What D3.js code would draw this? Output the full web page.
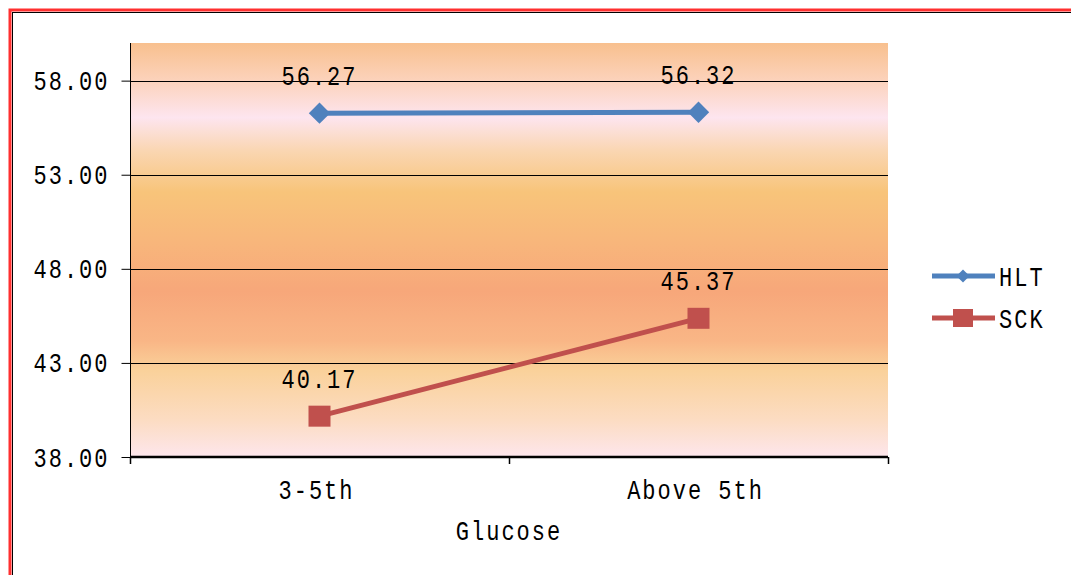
<!DOCTYPE html>
<html>
<head>
<meta charset="utf-8">
<script src="https://cdn.jsdelivr.net/npm/d3@7"></script>
<style>
  html, body { margin: 0; padding: 0; background: #fff; }
  svg { display: block; }
  text { font-family: "Liberation Mono", "DejaVu Sans Mono", monospace; fill: #000; }
</style>
</head>
<body>
<svg id="chart" width="1071" height="575"></svg>
<script>
// Chart data
const categories = ["3-5th", "Above 5th"];
const seriesNames = ["HLT", "SCK"];
const hltValues = [56.27, 56.32];
const sckValues = [40.17, 45.37];
const yTickValues = [38, 43, 48, 53, 58];
const xTitle = "Glucose";

const W = 1071, H = 575;
const plot = { left: 130, top: 43, right: 888, bottom: 457 };
const colors = { HLT: "#4f81bd", SCK: "#c0504d" };
const fontSize = 22;
const letterSpacing = 2;
const stretch = 1.27; // taller glyphs, as in the original typeface

const svg = d3.select("#chart");

// Outer frame: red rule with a thin black inner line
svg.append("rect").attr("x", 10).attr("y", 10).attr("width", W + 20).attr("height", H + 20)
  .attr("fill", "none").attr("stroke", "#ff3030").attr("stroke-width", 3);
svg.append("rect").attr("x", 12.5).attr("y", 12.5).attr("width", W + 20).attr("height", H + 20)
  .attr("fill", "none").attr("stroke", "#000").attr("stroke-width", 1);

const x = d3.scaleBand().domain(categories).range([plot.left, plot.right]);
const y = d3.scaleLinear().domain([38, 60]).range([plot.bottom, plot.top]);

// Plot-area background gradient
const defs = svg.append("defs");
const grad = defs.append("linearGradient").attr("id", "bg").attr("x1", 0).attr("y1", 0).attr("x2", 0).attr("y2", 1);
[
  [0.00, "#f8c08e"], [0.09, "#fcd2bb"], [0.18, "#fde5ef"], [0.26, "#fad6b2"],
  [0.36, "#f8c47a"], [0.48, "#f8b67b"], [0.60, "#f7a77a"], [0.72, "#f9b686"],
  [0.79, "#fad19a"], [0.91, "#fcdcc2"], [1.00, "#fde6ec"]
].forEach(([o, c]) => grad.append("stop").attr("offset", o).attr("stop-color", c));

svg.append("rect")
  .attr("x", plot.left).attr("y", plot.top)
  .attr("width", plot.right - plot.left).attr("height", plot.bottom - plot.top)
  .attr("fill", "url(#bg)");

// Horizontal gridlines
svg.append("g").selectAll("line").data(yTickValues.slice(1)).join("line")
  .attr("x1", plot.left).attr("x2", plot.right)
  .attr("y1", d => Math.round(y(d)) + 0.5).attr("y2", d => Math.round(y(d)) + 0.5)
  .attr("stroke", "#000").attr("stroke-width", 1);

function stretchedText(g, xPos, baseY, str, anchor) {
  return g.append("text")
    .attr("transform", `translate(${xPos},${baseY}) scale(1,${stretch})`)
    .attr("text-anchor", anchor || "middle")
    .attr("font-size", fontSize)
    .attr("letter-spacing", letterSpacing)
    .text(str);
}

// Y axis
const yAxis = svg.append("g").attr("transform", `translate(${plot.left + 0.5},0)`)
  .call(d3.axisLeft(y).tickValues(yTickValues).tickSize(9).tickFormat(""));
yAxis.select(".domain").attr("stroke", "#000").attr("d", `M0,${plot.top}V${plot.bottom + 6}`);
yAxis.selectAll(".tick line").attr("stroke", "#000");
yAxis.selectAll(".tick").each(function(d) {
  stretchedText(d3.select(this), -21, 9, d3.format(".2f")(d), "end");
});

// X axis
const xAxis = svg.append("g").attr("transform", `translate(0,${plot.bottom})`)
  .call(d3.axisBottom(x).tickSize(0).tickFormat(""));
xAxis.select(".domain").attr("stroke", "#000").attr("stroke-width", 2.5)
  .attr("d", `M${plot.left},0H${plot.right}`);
// category boundary ticks
const bounds = [plot.left, x(categories[1]), plot.right];
xAxis.append("g").selectAll("line").data(bounds).join("line")
  .attr("x1", d => Math.round(d) + 0.5).attr("x2", d => Math.round(d) + 0.5)
  .attr("y1", 0).attr("y2", 7).attr("stroke", "#000").attr("stroke-width", 1.5);

// category labels
categories.forEach(c => stretchedText(svg, x(c) + x.bandwidth() / 2 - 3, 499, c));
// axis title
stretchedText(svg, (plot.left + plot.right) / 2, 540, xTitle);

// Series
const series = [
  { name: "HLT", values: hltValues, marker: "diamond" },
  { name: "SCK", values: sckValues, marker: "square" }
];
const cx = c => x(c) + x.bandwidth() / 2;
const line = d3.line().x((d, i) => cx(categories[i])).y(d => y(d));

series.forEach(s => {
  svg.append("path").datum(s.values)
    .attr("d", line).attr("fill", "none")
    .attr("stroke", colors[s.name]).attr("stroke-width", 5);
  s.values.forEach((v, i) => {
    const px = cx(categories[i]), py = y(v);
    if (s.marker === "diamond") {
      svg.append("path")
        .attr("d", d3.symbol(d3.symbolDiamond2, 290)())
        .attr("transform", `translate(${px},${py})`)
        .attr("fill", colors[s.name]);
    } else {
      svg.append("rect")
        .attr("x", px - 11).attr("y", py - 10.5).attr("width", 22).attr("height", 21)
        .attr("fill", colors[s.name]);
    }
    stretchedText(svg, px, py - 28, d3.format(".2f")(v));
  });
});

// Legend
const legend = svg.append("g");
series.forEach((s, i) => {
  const ly = 276 + i * 42;
  legend.append("line").attr("x1", 932).attr("x2", 995).attr("y1", ly).attr("y2", ly)
    .attr("stroke", colors[s.name]).attr("stroke-width", 5);
  if (s.marker === "diamond") {
    legend.append("path").attr("d", d3.symbol(d3.symbolDiamond2, 110)())
      .attr("transform", `translate(963,${ly})`).attr("fill", colors[s.name]);
  } else {
    legend.append("rect").attr("x", 953).attr("y", ly - 9).attr("width", 20).attr("height", 18)
      .attr("fill", colors[s.name]);
  }
  stretchedText(legend, 999, ly + 10, s.name, "start");
});
</script>
</body>
</html>
